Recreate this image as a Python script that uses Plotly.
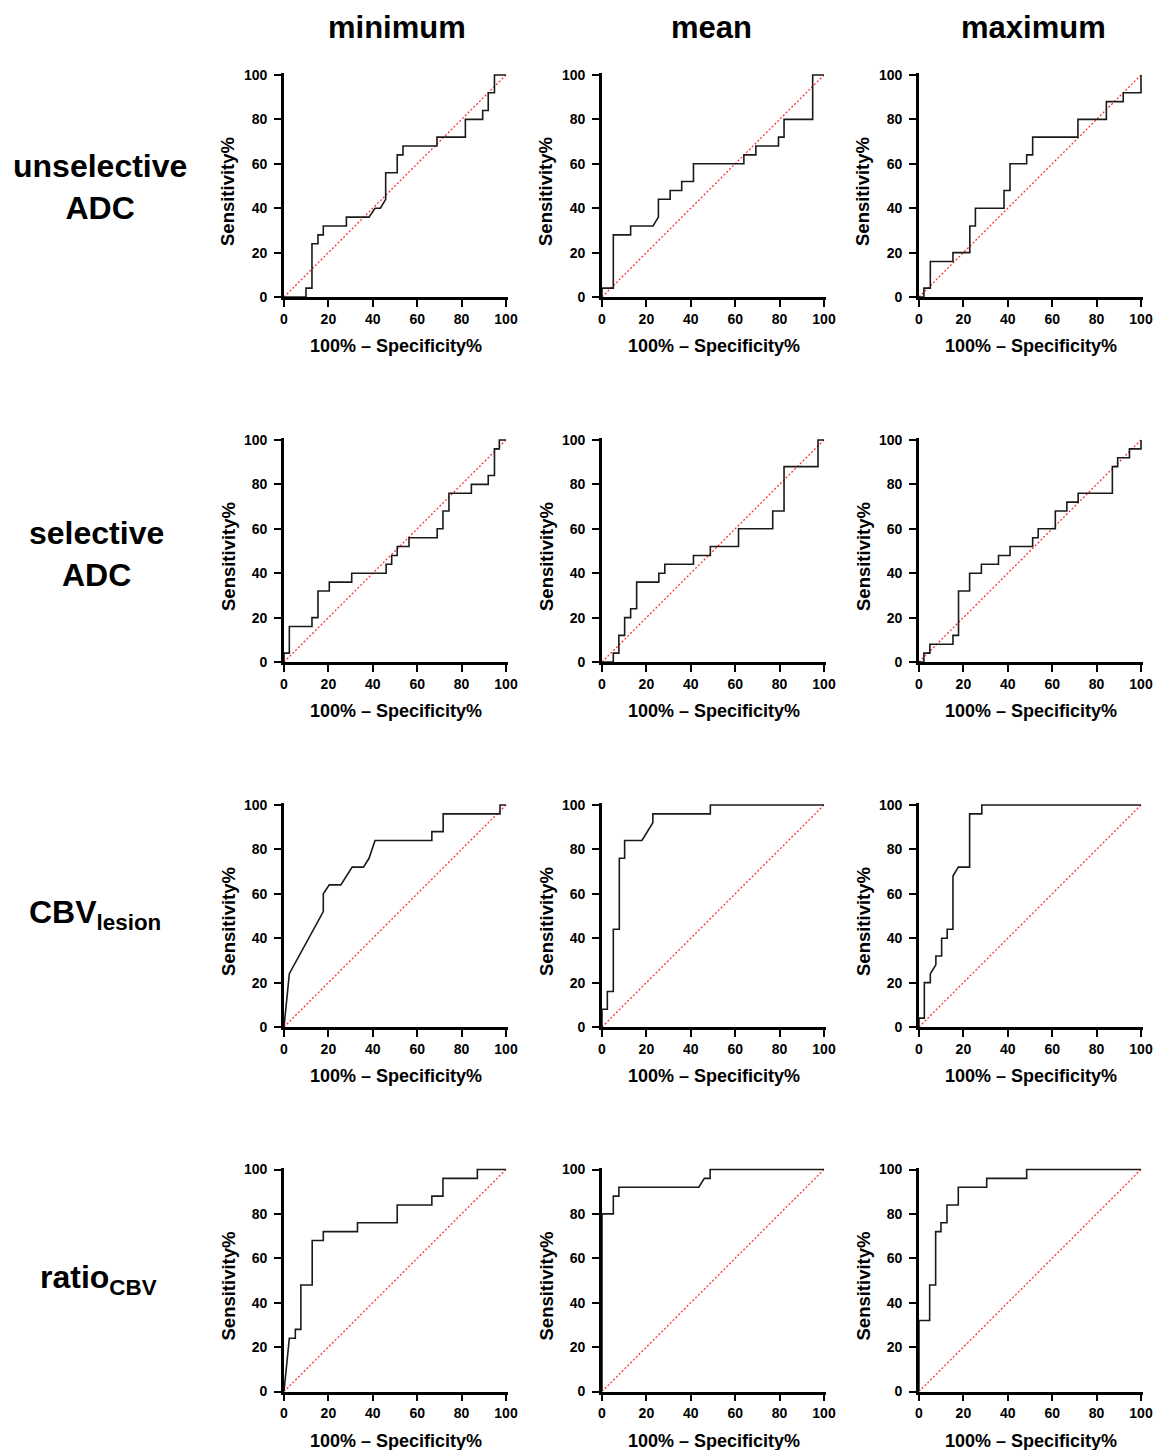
import plotly.graph_objects as go

W, H = 1160, 1450

col_titles = ["minimum", "mean", "maximum"]
row_titles = ["unselective<br>ADC", "selective<br>ADC", "CBV<sub>lesion</sub>", "ratio<sub>CBV</sub>"]
tick_vals = [0, 20, 40, 60, 80, 100]
x_title = "100% – Specificity%"
y_title = "Sensitivity%"

# ROC curves: x = 100% - Specificity%, y = Sensitivity%
unsel_min_x = [0, 9.9, 9.9, 12.6, 12.6, 15.3, 15.3, 17.7, 17.7, 28.1, 28.1, 38.3, 41, 43.4, 45.8, 45.8, 51, 51, 53.6, 53.6, 68.9, 68.9, 81.7, 81.7, 89.5, 89.5, 92, 92, 94.8, 94.8, 100]
unsel_min_y = [0, 0, 4, 4, 24, 24, 28, 28, 32, 32, 36, 36, 40, 40, 44, 56, 56, 64, 64, 68, 68, 72, 72, 80, 80, 84, 84, 92, 92, 100, 100]

unsel_mean_x = [0, 0, 5.1, 5.1, 12.9, 12.9, 23, 25.4, 25.4, 30.7, 30.7, 35.9, 35.9, 41.2, 41.2, 63.9, 63.9, 69.3, 69.3, 79.5, 79.5, 82, 82, 94.9, 94.9, 100]
unsel_mean_y = [0, 4, 4, 28, 28, 32, 32, 36, 44, 44, 48, 48, 52, 52, 60, 60, 64, 64, 68, 68, 72, 72, 80, 80, 100, 100]

unsel_max_x = [0, 2.2, 2.2, 5.1, 5.1, 15.3, 15.3, 22.9, 22.9, 25.4, 25.4, 38.3, 38.3, 41, 41, 48.5, 48.5, 51.2, 51.2, 71.6, 71.6, 84.4, 84.4, 92, 92, 100, 100]
unsel_max_y = [0, 0, 4, 4, 16, 16, 20, 20, 32, 32, 40, 40, 48, 48, 60, 60, 64, 64, 72, 72, 80, 80, 88, 88, 92, 92, 100]

sel_min_x = [0, 0, 2.4, 2.4, 12.6, 12.6, 15.3, 15.3, 20.4, 20.4, 30.5, 30.5, 46, 46, 48.5, 48.5, 51, 51, 56.3, 56.3, 69, 69, 71.6, 71.6, 74.3, 74.3, 84.4, 84.4, 92, 92, 94.8, 94.8, 97, 97, 100]
sel_min_y = [0, 4, 4, 16, 16, 20, 20, 32, 32, 36, 36, 40, 40, 44, 44, 48, 48, 52, 52, 56, 56, 60, 60, 68, 68, 76, 76, 80, 80, 84, 84, 96, 96, 100, 100]

sel_mean_x = [0, 5.1, 5.1, 7.6, 7.6, 10.2, 10.2, 12.9, 12.9, 15.6, 15.6, 25.6, 25.6, 28.3, 28.3, 41.2, 41.2, 48.8, 48.8, 61.5, 61.5, 76.9, 76.9, 82, 82, 97.3, 97.3, 100]
sel_mean_y = [0, 0, 4, 4, 12, 12, 20, 20, 24, 24, 36, 36, 40, 40, 44, 44, 48, 48, 52, 52, 60, 60, 68, 68, 88, 88, 100, 100]

sel_max_x = [0, 2.2, 2.2, 4.9, 4.9, 15.3, 15.3, 17.8, 17.8, 22.8, 22.8, 28.1, 28.1, 35.8, 35.8, 41, 41, 51.2, 51.2, 53.7, 53.7, 61.4, 61.4, 66.6, 66.6, 71.7, 71.7, 87.1, 87.1, 89.5, 89.5, 94.8, 94.8, 100, 100]
sel_max_y = [0, 0, 4, 4, 8, 8, 12, 12, 32, 32, 40, 40, 44, 44, 48, 48, 52, 52, 56, 56, 60, 60, 68, 68, 72, 72, 76, 76, 88, 88, 92, 92, 96, 96, 100]

cbv_min_x = [0, 2.4, 17.7, 17.7, 20.4, 25.6, 30.7, 35.8, 38.3, 41, 66.6, 66.6, 71.7, 71.7, 97.3, 97.3, 100]
cbv_min_y = [0, 24, 52, 60, 64, 64, 72, 72, 76, 84, 84, 88, 88, 96, 96, 100, 100]

cbv_mean_x = [0, 0, 2.4, 2.4, 5.1, 5.1, 7.8, 7.8, 10.2, 10.2, 18, 22.9, 22.9, 48.8, 48.8, 100]
cbv_mean_y = [0, 8, 8, 16, 16, 44, 44, 76, 76, 84, 84, 92, 96, 96, 100, 100]

cbv_max_x = [0, 0, 2.4, 2.4, 5.1, 5.1, 7.6, 7.6, 10.2, 10.2, 12.7, 12.7, 15.3, 15.3, 17.7, 22.8, 22.8, 28.3, 28.3, 100]
cbv_max_y = [0, 4, 4, 20, 20, 24, 28, 32, 32, 40, 40, 44, 44, 68, 72, 72, 96, 96, 100, 100]

ratio_min_x = [0, 2.4, 5.1, 5.1, 7.6, 7.6, 12.7, 12.7, 17.7, 17.7, 33.1, 33.1, 51, 51, 66.6, 66.6, 71.6, 71.6, 87.1, 87.1, 100]
ratio_min_y = [0, 24, 24, 28, 28, 48, 48, 68, 68, 72, 72, 76, 76, 84, 84, 88, 88, 96, 96, 100, 100]

ratio_mean_x = [0, 0, 5.1, 5.1, 7.6, 7.6, 43.6, 46.1, 48.7, 48.7, 100]
ratio_mean_y = [0, 80, 80, 88, 88, 92, 92, 96, 96, 100, 100]

ratio_max_x = [0, 0, 4.8, 4.8, 7.5, 7.5, 9.9, 9.9, 12.6, 12.6, 17.7, 17.7, 30.5, 30.5, 48.5, 48.5, 100]
ratio_max_y = [0, 32, 32, 48, 48, 72, 72, 76, 76, 84, 84, 92, 92, 96, 96, 100, 100]

curves = [
    [(unsel_min_x, unsel_min_y), (unsel_mean_x, unsel_mean_y), (unsel_max_x, unsel_max_y)],
    [(sel_min_x, sel_min_y), (sel_mean_x, sel_mean_y), (sel_max_x, sel_max_y)],
    [(cbv_min_x, cbv_min_y), (cbv_mean_x, cbv_mean_y), (cbv_max_x, cbv_max_y)],
    [(ratio_min_x, ratio_min_y), (ratio_mean_x, ratio_mean_y), (ratio_max_x, ratio_max_y)],
]

# layout geometry in screen pixels: position of value 0 on each axis, and span of 0..100
col_x0 = [284, 602, 919]
col_span = 222
row_y0 = [297, 662, 1027, 1391.5]
row_span = 222
PAD = 0.9  # extra range above 100 so the top/right line is not clipped
FONT = "Arial, Liberation Sans, Helvetica, sans-serif"

def px_x(p):
    return p / W

def px_y(p):
    return 1 - p / H

fig = go.Figure()
annotations = []
n = 0
for r in range(4):
    for c in range(3):
        n += 1
        xa = "x" if n == 1 else f"x{n}"
        ya = "y" if n == 1 else f"y{n}"
        xk = "xaxis" if n == 1 else f"xaxis{n}"
        yk = "yaxis" if n == 1 else f"yaxis{n}"
        fig.add_trace(go.Scatter(x=[0, 100], y=[0, 100], mode="lines",
                                 line=dict(color="rgb(255,50,50)", width=1.3, dash="2px,2px"),
                                 xaxis=xa, yaxis=ya, showlegend=False, hoverinfo="skip"))
        cx, cy = curves[r][c]
        fig.add_trace(go.Scatter(x=cx, y=cy, mode="lines",
                                 line=dict(color="#1a1a1a", width=1.6),
                                 xaxis=xa, yaxis=ya, showlegend=False))
        x0 = col_x0[c]
        y0 = row_y0[r]
        ext = col_span * PAD / 100.0
        axis_common = dict(
            tickvals=tick_vals, ticks="outside", ticklen=7, tickwidth=2.2,
            tickcolor="black", showline=True, linecolor="black", linewidth=2.6,
            showgrid=False, zeroline=False, automargin=False,
            tickfont=dict(family=FONT, size=14, color="black", weight="bold"),
            fixedrange=True, range=[0, 100 + PAD], ticklabeloverflow="allow",
        )
        fig.layout[xk] = dict(axis_common, domain=[px_x(x0), px_x(x0 + col_span + ext)], anchor=ya)
        fig.layout[yk] = dict(axis_common, domain=[px_y(y0), px_y(y0 - row_span - ext)], anchor=xa,
                              ticklabelstandoff=4)
        annotations.append(dict(text=f"<b>{x_title}</b>", x=px_x(x0 + col_span / 2 + 1),
                                y=px_y(y0 + 49), xref="paper", yref="paper",
                                showarrow=False, xanchor="center", yanchor="middle",
                                font=dict(family=FONT, size=18, color="black")))
        annotations.append(dict(text=f"<b>{y_title}</b>", x=px_x(x0 - 56),
                                y=px_y(y0 - row_span / 2 + 6), xref="paper", yref="paper",
                                showarrow=False, xanchor="center", yanchor="middle",
                                textangle=-90,
                                font=dict(family=FONT, size=18.5, color="black")))

col_centers = [397, 711, 1033]
for c, t in enumerate(col_titles):
    annotations.append(dict(text=f"<b>{t}</b>", x=px_x(col_centers[c]), y=px_y(28),
                            xref="paper", yref="paper", showarrow=False,
                            xanchor="center", yanchor="middle",
                            font=dict(family=FONT, size=31, color="black")))

row_centers = [(100, 187), (96, 554), (95, 914), (98, 1279)]
for r, t in enumerate(row_titles):
    annotations.append(dict(text=f"<b>{t}</b>", x=px_x(row_centers[r][0]), y=px_y(row_centers[r][1]),
                            xref="paper", yref="paper", showarrow=False,
                            xanchor="center", yanchor="middle", align="center",
                            font=dict(family=FONT, size=32, color="black")))

fig.update_layout(width=W, height=H, margin=dict(l=0, r=0, t=0, b=0, autoexpand=False),
                  paper_bgcolor="white", plot_bgcolor="white",
                  annotations=annotations, showlegend=False)

fig.write_html("out.html", config={"displayModeBar": False},
               post_script="document.body.style.margin='0px';document.body.style.overflow='hidden';")
